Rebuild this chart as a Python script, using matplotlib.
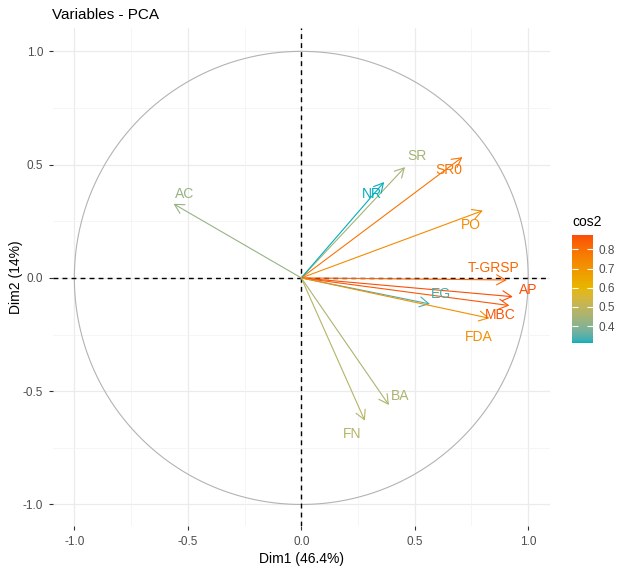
import numpy as np
import matplotlib.pyplot as plt
from matplotlib.colors import ListedColormap, Normalize, to_rgb

plt.rcParams['font.family'] = ['Liberation Sans', 'DejaVu Sans']

# PCA variable coordinates (Dim1, Dim2)
variables = ['AC', 'SR', 'SR0', 'NR', 'PO', 'T-GRSP', 'AP', 'EG', 'MBC', 'FDA', 'BA', 'FN']
dim1 = [-0.563, 0.457, 0.710, 0.365, 0.800, 0.906, 0.932, 0.567, 0.917, 0.829, 0.386, 0.280]
dim2 = [0.327, 0.489, 0.533, 0.423, 0.297, -0.009, -0.083, -0.115, -0.122, -0.178, -0.561, -0.630]

# label positions (data units)
lab_x = [-0.515, 0.511, 0.651, 0.311, 0.747, 0.849, 1.001, 0.617, 0.876, 0.782, 0.435, 0.226]
lab_y = [0.372, 0.539, 0.476, 0.371, 0.235, 0.043, -0.052, -0.072, -0.165, -0.261, -0.520, -0.689]

grad_cols = ['#00AFBB', '#E7B800', '#FC4E07']

x = np.array(dim1)
y = np.array(dim2)
cos2 = x**2 + y**2


# ggplot style gradient: interpolate in Lab space
M = np.array([[0.4124, 0.3576, 0.1805],
              [0.2126, 0.7152, 0.0722],
              [0.0193, 0.1192, 0.9505]])
WP = np.array([0.95047, 1.0, 1.08883])

def rgb2lab(rgb):
    c = np.array(rgb)
    lin = np.where(c <= 0.04045, c/12.92, ((c+0.055)/1.055)**2.4)
    xyz = M @ lin / WP
    f = np.where(xyz > 0.008856, np.cbrt(xyz), 7.787*xyz + 16/116)
    return np.array([116*f[1]-16, 500*(f[0]-f[1]), 200*(f[1]-f[2])])

def lab2rgb(lab):
    fy = (lab[0]+16)/116
    fx = fy + lab[1]/500
    fz = fy - lab[2]/200
    f = np.array([fx, fy, fz])
    xyz = np.where(f**3 > 0.008856, f**3, (f-16/116)/7.787) * WP
    lin = np.linalg.solve(M, xyz)
    lin = np.clip(lin, 0, 1)
    c = np.where(lin <= 0.0031308, 12.92*lin, 1.055*lin**(1/2.4)-0.055)
    return np.clip(c, 0, 1)

labs = [rgb2lab(to_rgb(c)) for c in grad_cols]
cols = []
for u in np.linspace(0, 1, 256):
    seg = min(int(u*2), 1)
    f = u*2 - seg
    cols.append(lab2rgb(labs[seg]*(1-f) + labs[seg+1]*f))
cmap = ListedColormap(cols)
norm = Normalize(vmin=cos2.min(), vmax=cos2.max())

fig = plt.figure(figsize=(6.24, 5.78), dpi=100)
W, H = 624, 578
ax = fig.add_axes([53/W, 1 - 526/H, 497/W, 498/H])

ax.set_xlim(-1.094, 1.096)
ax.set_ylim(-1.095, 1.103)

# grid
for v in [-1, -0.5, 0, 0.5, 1]:
    ax.axvline(v, color='#EBEBEB', lw=0.9, zorder=0)
    ax.axhline(v, color='#EBEBEB', lw=0.9, zorder=0)
for v in [-0.75, -0.25, 0.25, 0.75]:
    ax.axvline(v, color='#F2F2F2', lw=0.5, zorder=0)
    ax.axhline(v, color='#F2F2F2', lw=0.5, zorder=0)

# correlation circle
t = np.linspace(0, 2*np.pi, 400)
ax.plot(np.cos(t), np.sin(t), color='#B3B3B3', lw=0.8, zorder=1)

ax.axhline(0, color='black', lw=1.0, ls=(0, (3.5, 3)), zorder=2)
ax.axvline(0, color='black', lw=1.0, ls=(0, (3.5, 3)), zorder=2)

for i, name in enumerate(variables):
    c = cmap(norm(cos2[i]))
    ax.annotate('', xy=(x[i], y[i]), xytext=(0, 0),
                arrowprops=dict(arrowstyle='->,head_length=0.55,head_width=0.3',
                                color=c, lw=0.8, shrinkA=0, shrinkB=0,
                                mutation_scale=12),
                zorder=3)
    ax.text(lab_x[i], lab_y[i], name, color=c, fontsize=10,
            ha='center', va='center', zorder=4)

for s in ax.spines.values():
    s.set_visible(False)
ticks = [-1.0, -0.5, 0.0, 0.5, 1.0]
ax.set_xticks(ticks)
ax.set_yticks(ticks)
ax.set_xticklabels(['%.1f' % v for v in ticks])
ax.set_yticklabels(['%.1f' % v for v in ticks])
ax.tick_params(length=3, width=0.8, color='#333333', labelcolor='#4D4D4D',
               labelsize=8.5, pad=4)

ax.set_xlabel('Dim1 (46.4%)', fontsize=10, labelpad=3)
ax.set_ylabel('Dim2 (14%)', fontsize=10, labelpad=0)

fig.text(52/W, 1 - 15/H, 'Variables - PCA', fontsize=11, ha='left', va='center')

# colour bar
cax = fig.add_axes([572/W, 1 - 343/H, 21/W, 108/H])
grad = np.linspace(cos2.min(), cos2.max(), 256).reshape(-1, 1)
cax.imshow(grad, aspect='auto', cmap=cmap, norm=norm, origin='lower',
           extent=[0, 1, cos2.min(), cos2.max()])
cb_ticks = [0.4, 0.5, 0.6, 0.7, 0.8]
cax.set_xticks([])
cax.set_yticks(cb_ticks)
cax.set_yticklabels(['%.1f' % v for v in cb_ticks])
cax.tick_params(axis='y', direction='in', length=4, width=0.8, color='white',
                labelcolor='#4D4D4D', labelsize=8.5, left=True, right=True,
                labelleft=False, labelright=True, pad=4)
for s in cax.spines.values():
    s.set_visible(False)
fig.text(572/W, 1 - 222/H, 'cos2', fontsize=10, ha='left', va='center')

plt.savefig('out.png', dpi=100)
